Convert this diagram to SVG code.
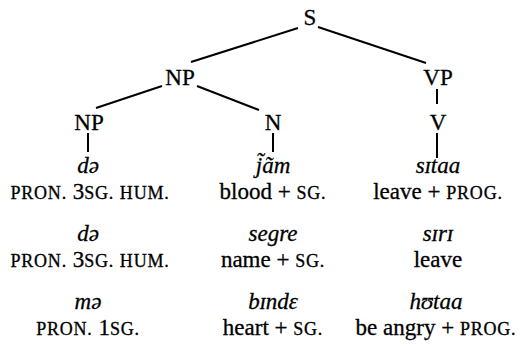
<svg xmlns="http://www.w3.org/2000/svg" width="522" height="348" viewBox="0 0 522 348">
  <style>
    text { font-family: 'Liberation Serif', 'Times New Roman', serif; font-size: 23px; fill: #000; stroke: #000; stroke-width: 0.3px; text-anchor: middle; }
    .it { font-style: italic; }
    .sc { font-size: 18px; letter-spacing: 0.8px; }
    .edge { stroke: #000; stroke-width: 2; fill: none; }
  </style>
  <rect width="522" height="348" fill="#fff"/>

  <!-- tree edges -->
  <g id="connectors">
    <line class="edge" x1="298" y1="28" x2="191" y2="62"/>
    <line class="edge" x1="318" y1="27" x2="426" y2="63"/>
    <line class="edge" x1="162" y1="86" x2="96" y2="108"/>
    <line class="edge" x1="197" y1="86" x2="259" y2="110"/>
    <line class="edge" x1="437" y1="89" x2="437" y2="104"/>
    <line class="edge" x1="88" y1="133" x2="88" y2="152"/>
    <line class="edge" x1="273" y1="133" x2="273" y2="152"/>
    <line class="edge" x1="437" y1="133" x2="437" y2="158"/>
  </g>

  <!-- tree nodes -->
  <g id="node-S"><text x="310" y="25">S</text></g>
  <g id="node-NP"><text x="180" y="85">NP</text></g>
  <g id="node-VP"><text x="438" y="85">VP</text></g>
  <g id="node-NP2"><text x="89" y="130">NP</text></g>
  <g id="node-N"><text x="273" y="130">N</text></g>
  <g id="node-V"><text x="438" y="130">V</text></g>

  <!-- example 1 -->
  <g id="ex1">
    <text class="it" x="88" y="173">də</text>
    <text x="90" y="199"><tspan class="sc">PRON.</tspan> 3<tspan class="sc">SG.</tspan> <tspan class="sc">HUM.</tspan></text>
    <text class="it" x="273" y="173">j̃ãm</text>
    <text x="273" y="199">blood + <tspan class="sc">SG.</tspan></text>
    <text class="it" x="438" y="173">sɪtaa</text>
    <text x="438" y="199">leave + <tspan class="sc">PROG.</tspan></text>
  </g>

  <!-- example 2 -->
  <g id="ex2">
    <text class="it" x="88" y="241">də</text>
    <text x="90" y="267"><tspan class="sc">PRON.</tspan> 3<tspan class="sc">SG.</tspan> <tspan class="sc">HUM.</tspan></text>
    <text class="it" x="273" y="241">segre</text>
    <text x="273" y="267">name + <tspan class="sc">SG.</tspan></text>
    <text class="it" x="438" y="241">sɪrɪ</text>
    <text x="438" y="267">leave</text>
  </g>

  <!-- example 3 -->
  <g id="ex3">
    <text class="it" x="88" y="309">mə</text>
    <text x="88" y="335"><tspan class="sc">PRON.</tspan> 1<tspan class="sc">SG.</tspan></text>
    <text class="it" x="273" y="309">bɪndɛ</text>
    <text x="273" y="335">heart + <tspan class="sc">SG.</tspan></text>
    <text class="it" x="436" y="309">hʊtaa</text>
    <text x="436" y="335">be angry + <tspan class="sc">PROG.</tspan></text>
  </g>
</svg>
